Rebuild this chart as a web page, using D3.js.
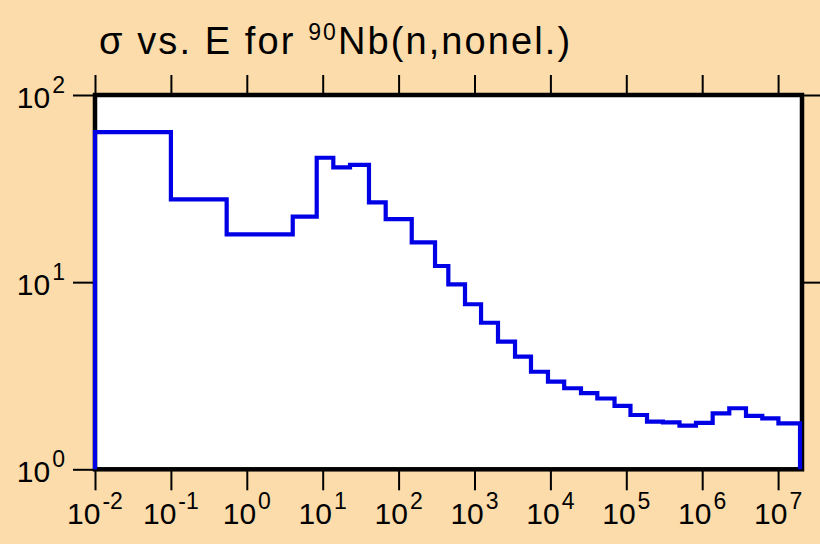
<!DOCTYPE html>
<html>
<head>
<meta charset="utf-8">
<script src="https://cdn.jsdelivr.net/npm/d3@7"></script>
<style>
  html, body { margin: 0; padding: 0; background: #fcdcaa; }
  svg { display: block; }
  text { font-family: "Liberation Sans", Arial, Helvetica, sans-serif; fill: #000; }
</style>
</head>
<body>
<svg id="chart" width="820" height="544"></svg>
<script>
// Bin edges (energy, eV) and cross-section levels (b)
const binEdges = [1e-2, 0.1, 0.543, 4.03, 8.34, 13.8, 22.9, 40.7, 67.6, 149, 302, 452, 750,
  1220, 2040, 3420, 5550, 9290, 15200, 25300, 41500, 70000, 113500, 187500, 304000,
  502000, 828000, 1.374e6, 2.274e6, 3.776e6, 6.19e6, 1.01e7, 1.945e7];
const sigmaValues = [63.4, 27.7, 18.0, 22.4, 46.2, 41.0, 42.3, 26.7, 21.7, 16.3, 12.2, 9.74,
  7.62, 6.07, 4.81, 4.0, 3.32, 2.94, 2.71, 2.55, 2.39, 2.18, 1.95, 1.80, 1.78, 1.71, 1.77,
  1.99, 2.12, 1.93, 1.87, 1.76];
const xTickExps = [-2, -1, 0, 1, 2, 3, 4, 5, 6, 7];
const yTickExps = [0, 1, 2];
const titleMain = "σ vs. E for ";
const titleSup = "90";
const titleRest = "Nb(n,nonel.)";

const svg = d3.select("#chart");
const L = 95, R = 802, T = 95, B = 469.3;

const x = d3.scaleLog().domain([1e-2, Math.pow(10, 7.315)]).range([L, R]);
const y = d3.scaleLog().domain([1, 100]).range([B, T]);

// plot area
svg.append("rect").attr("x", L).attr("y", T).attr("width", R - L).attr("height", B - T).attr("fill", "#fff");

// axes (ticks only)
const xTickVals = xTickExps.map(e => Math.pow(10, e));
const yTickVals = yTickExps.map(e => Math.pow(10, e));
function styleAxis(g) {
  g.select(".domain").remove();
  g.selectAll(".tick line").attr("stroke", "#000").attr("stroke-width", 2);
}
svg.append("g").attr("transform", `translate(0,${B})`)
  .call(d3.axisBottom(x).tickValues(xTickVals).tickSize(21).tickFormat("")).call(styleAxis);
svg.append("g").attr("transform", `translate(0,${T})`)
  .call(d3.axisTop(x).tickValues(xTickVals).tickSize(20).tickFormat("")).call(styleAxis);
svg.append("g").attr("transform", `translate(${L},0)`)
  .call(d3.axisLeft(y).tickValues(yTickVals).tickSize(22).tickFormat("")).call(styleAxis);
svg.append("g").attr("transform", `translate(${R},0)`)
  .call(d3.axisRight(y).tickValues(yTickVals.filter(v => v > 1)).tickSize(20).tickFormat("")).call(styleAxis);

// frame
svg.append("rect").attr("x", L).attr("y", T).attr("width", R - L).attr("height", B - T)
  .attr("fill", "none").attr("stroke", "#000").attr("stroke-width", 4.5);

// step line
const pts = [[binEdges[0], 1]];
sigmaValues.forEach((v, i) => {
  pts.push([binEdges[i], v]);
  pts.push([binEdges[i + 1], v]);
});
pts.push([binEdges[binEdges.length - 1], 1]);
const line = d3.line().x(d => x(d[0])).y(d => y(d[1]));
svg.append("path").attr("d", line(pts)).attr("fill", "none")
  .attr("stroke", "#0000e6").attr("stroke-width", 4.2).attr("stroke-linejoin", "miter");

// x tick labels
xTickExps.forEach(e => {
  const t = svg.append("text").attr("x", x(Math.pow(10, e))).attr("y", 523.5)
    .attr("text-anchor", "middle").style("font-size", "30px");
  t.append("tspan").text("10");
  t.append("tspan").attr("dx", 2).attr("dy", -15).style("font-size", "23px").text(String(e));
});
// y tick labels
yTickExps.forEach(e => {
  const t = svg.append("text").attr("x", 65).attr("y", y(Math.pow(10, e)) + 12.5)
    .attr("text-anchor", "end").style("font-size", "30px");
  t.append("tspan").text("10");
  t.append("tspan").attr("dx", 2).attr("dy", -15).style("font-size", "23px").text(String(e));
});

// title
const title = svg.append("text").attr("x", 99).attr("y", 54)
  .style("font-size", "38px").style("letter-spacing", "2.1px");
title.append("tspan").text(titleMain);
title.append("tspan").attr("dy", -14).style("font-size", "23px").text(titleSup);
title.append("tspan").attr("dy", 14).text(titleRest);
</script>
</body>
</html>
